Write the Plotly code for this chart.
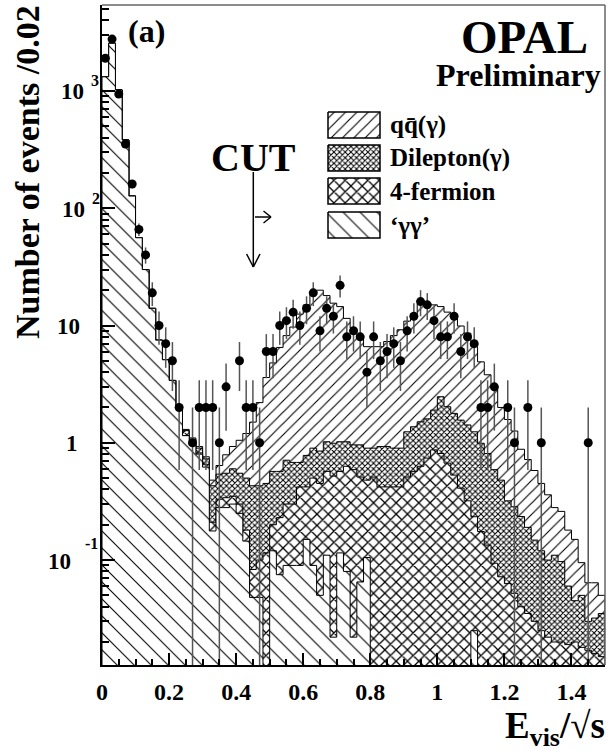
import numpy as np
import plotly.graph_objects as go

# ---------------- data (events per 0.02 bin of E_vis/sqrt(s), 0 .. 1.5) ----------------
BIN_WIDTH = 0.02

gamma_gamma = [1320, 2550, 1020, 382, 127, 56, 30, 14, 7.5, 5.1, 3.4, 1.95,
               1.15, 0.95, 0.80, 0.62,
               0.177, 0.28, 0.28, 0.30, 0.25, 0.145, 0.048, 0.048, 0, 0.12, 0.075, 0.09,
               0.09, 0.09, 0.15, 0.09, 0.05, 0.11, 0.022, 0.115, 0.08, 0.022, 0.065, 0.105,
               0, 0, 0, 0, 0, 0, 0, 0, 0, 0, 0, 0, 0, 0, 0,
               0.025,
               0, 0, 0, 0, 0, 0, 0, 0, 0, 0, 0, 0, 0, 0, 0, 0, 0, 0, 0]

four_fermion = [0, 0, 0, 0, 0, 0, 0, 0, 0, 0, 0, 0,
                0, 0, 0.02, 0.03,
                0.033, 0.05, 0.06, 0.05, 0.05, 0.035, 0.035, 0.052, 0.115, 0.08, 0.155, 0.21,
                0.21, 0.33, 0.27, 0.41, 0.40, 0.46, 0.498, 0.455, 0.55, 0.568, 0.445, 0.375,
                0.51, 0.42, 0.42, 0.42, 0.42, 0.51, 0.57, 0.63, 0.74, 0.87, 0.81, 0.67, 0.53, 0.41, 0.32,
                0.209,
                0.175, 0.134, 0.094, 0.072, 0.063, 0.052, 0.040, 0.035, 0.030, 0.025, 0.022, 0.020,
                0.020, 0.019, 0.020, 0.018, 0.017, 0.016, 0.015]

dilepton = [0, 0, 0, 0, 0, 0, 0, 0, 0, 0, 0, 0,
            0.12, 0.12, 0.08, 0.08,
            0.22, 0.21, 0.21, 0.25, 0.25, 0.32, 0.347, 0.33, 0.335, 0.37, 0.34, 0.41,
            0.38, 0.26, 0.36, 0.40, 0.40, 0.45, 0.47, 0.45, 0.39, 0.37, 0.45, 0.42,
            0.39, 0.51, 0.51, 0.48, 0.48, 0.73, 0.80, 0.88, 0.86, 1.03, 1.66, 1.36, 1.25, 1.15, 1.10,
            1.006,
            0.815, 0.676, 0.496, 0.408, 0.257, 0.233, 0.195, 0.155, 0.118, 0.095, 0.078, 0.09,
            0.077, 0.041, 0.025, 0.032, 0.013, 0.016, 0.02]

qqbar = [0, 0, 0, 0, 0, 0, 0, 0, 0, 0, 0, 0,
         0.03, 0.03, 0.03, 0.03,
         0.05, 0.10, 0.24, 0.33, 0.50, 0.70, 1.07, 1.77, 3.15, 4.23, 5.93, 7.49,
         9.02, 11.82, 14.22, 17.6, 19.15, 16.98, 14.51, 13.48, 10.48, 8.54, 7.04, 5.7,
         5.7, 5.67, 6.37, 7.3, 8.3, 9.66, 11.23, 13.79, 14.0, 13.1, 12.03, 10.97, 10.02, 8.34, 7.18,
         5.36,
         3.91, 2.99, 2.41, 1.52, 1.26, 0.975, 0.645, 0.53, 0.432, 0.33, 0.26, 0.17,
         0.163, 0.12, 0.105, 0.045, 0.034, 0.032, 0.015]

data_counts = [1900, 2770, 940, 353, 161, 66, 40, 19, 10, 7, 5, 2,
               0, 1, 2, 2, 2, 1, 3, 0, 5, 2, 2, 1, 6, 6, 10, 11,
               13, 10, 14, 19, 9, 14, 12, 22, 8, 9, 8, 4,
               8, 5, 6, 7, 5, 9, 12, 16, 15, 11, 8, 8, 12, 6, 8,
               7,
               2, 2, 3, 0, 2, 1, 0, 2, 0, 1, 0, 0,
               0, 0, 0, 0, 1, 0, 0]

xtick_vals = [0, 0.2, 0.4, 0.6, 0.8, 1.0, 1.2, 1.4]
xtick_text = ["0", "0.2", "0.4", "0.6", "0.8", "1", "1.2", "1.4"]
ytick_vals = [0.1, 1, 10, 100, 1000]
ytick_base = ["10", "1", "10", "10", "10"]
ytick_exp = ["-1", "", "", "2", "3"]

legend_labels = ["qq\u0304(\u03b3)", "Dilepton(\u03b3)", "4-fermion", "\u2018\u03b3\u03b3\u2019"]

# ---------------- geometry / style ----------------
W, H = 609, 751
L, R, T, B = 102, 605, 5, 665
FONT = "Liberation Serif"


def px(x):
    return (x - L) / (R - L)


def py(y):
    return (B - y) / (B - T)


patterns = {
    "qq": dict(shape="/", size=8, solidity=0.14),
    "dil": dict(shape="x", size=4, solidity=0.45),
    "4f": dict(shape="x", size=8, solidity=0.3),
    "gg": dict(shape="\\", size=12, solidity=0.09),
}
for p in patterns.values():
    p.update(fgcolor="black", bgcolor="white", fillmode="replace")

n_bins = len(gamma_gamma)
edges = np.round(np.arange(n_bins + 1) * BIN_WIDTH, 4)
centers = edges[:-1] + BIN_WIDTH / 2

stack = np.vstack([gamma_gamma, four_fermion, dilepton, qqbar]).astype(float)
cum = np.cumsum(stack, axis=0)
FLOOR = 1e-5

fig = go.Figure()

order = [(3, "qq"), (2, "dil"), (1, "4f"), (0, "gg")]
for idx, key in order:
    v = np.where(cum[idx] > 0, cum[idx], FLOOR)
    xs = np.concatenate([[edges[0]], edges, [edges[-1]]])
    ys = np.concatenate([[FLOOR], v, [v[-1]], [FLOOR]])
    fig.add_trace(go.Scatter(
        x=xs, y=ys, mode="lines", line=dict(color="black", width=1, shape="hv"),
        fill="toself", fillcolor="white", fillpattern=patterns[key],
        showlegend=False, hoverinfo="skip"))

N = np.array(data_counts, dtype=float)
mask = N > 0
err = np.sqrt(N[mask])
err_lo = np.minimum(err, N[mask] * 0.9999)
fig.add_trace(go.Scatter(
    x=centers[mask], y=N[mask], mode="markers",
    marker=dict(color="black", size=9),
    error_y=dict(type="data", array=err, arrayminus=err_lo, symmetric=False,
                 color="#555555", thickness=1.5, width=0),
    showlegend=False))

# legend swatches drawn on an overlay axis in pixel units
box_tops = [112, 145, 178, 212]
for (key, top) in zip(["qq", "dil", "4f", "gg"], box_tops):
    x0, x1, y0, y1 = 328, 380, top, top + 26
    fig.add_trace(go.Scatter(
        x=[x0, x1, x1, x0, x0], y=[y0, y0, y1, y1, y0], mode="lines",
        line=dict(color="black", width=1.5), fill="toself", fillcolor="white",
        fillpattern=patterns[key], xaxis="x2", yaxis="y2",
        showlegend=False, hoverinfo="skip"))

ann = []
def add_text(text, x, y, size, xanchor="center", yanchor="middle", angle=0):
    ann.append(dict(text=text, x=px(x), y=py(y), xref="paper", yref="paper",
                    xanchor=xanchor, yanchor=yanchor, showarrow=False, textangle=angle,
                    font=dict(family=FONT, size=size, color="black", weight="bold")))

# y tick labels (ROOT style)
base_right = [73, 80, 82, 87, 86]
exp_left = [83, None, None, 90, 89]
exp_shift = [17, 0, 0, 10, 10]
for val, base, ex, br, el, sh in zip(ytick_vals, ytick_base, ytick_exp, base_right, exp_left, exp_shift):
    ann.append(dict(text=base, x=px(br), y=np.log10(val), xref="paper", yref="y",
                    xanchor="right", yanchor="middle", showarrow=False, yshift=-1,
                    font=dict(family=FONT, size=23, color="black", weight="bold")))
    if ex:
        ann.append(dict(text=ex, x=px(el), y=np.log10(val), xref="paper", yref="y",
                        xanchor="left", yanchor="middle", showarrow=False, yshift=sh,
                        font=dict(family=FONT, size=16, color="black", weight="bold")))

add_text("(a)", 146, 31, 32)
add_text("OPAL", 590, 37, 47, xanchor="right")
add_text("Preliminary", 603, 75, 32, xanchor="right")
add_text("CUT", 253, 157, 40)
for lab, top in zip(legend_labels, box_tops):
    add_text(lab, 388, top + 13, 25, xanchor="left")
add_text("Number of events /0.02", 27, 172, 34, angle=-90)
add_text("E<sub>vis</sub>/\u221as", 607, 728, 37, xanchor="right")

shapes = []
def seg(x0, y0, x1, y1, color="black", width=1.5):
    shapes.append(dict(type="line", xref="paper", yref="paper", x0=px(x0), y0=py(y0),
                       x1=px(x1), y1=py(y1), line=dict(color=color, width=width)))

seg(L, T, R, T, color="#666666", width=1.5)
seg(R, T, R, B, color="#666666", width=1.5)
# cut arrow
seg(253.3, 172, 253.3, 267)
seg(246.6, 254, 253.3, 267)
seg(260.0, 254, 253.3, 267)
seg(255, 217, 271, 217)
seg(263.5, 211, 271, 217)
seg(263.5, 223, 271, 217)

x_minor = [round(0.05 * k, 2) for k in range(1, 30) if k % 4 != 0]
y_minor = [m * 10.0 ** d for d in range(-2, 4) for m in range(2, 10)]

fig.update_layout(
    width=W, height=H, margin=dict(l=L, r=W - R, t=T, b=H - B),
    paper_bgcolor="white", plot_bgcolor="white",
    annotations=ann, shapes=shapes, showlegend=False,
    xaxis=dict(range=[0, 1.5], tickmode="array", tickvals=xtick_vals, ticktext=xtick_text,
               ticks="inside", ticklen=12, tickwidth=1.5, tickcolor="black",
               minor=dict(tickmode="array", tickvals=x_minor, ticks="inside", ticklen=6,
                          tickwidth=1.5, tickcolor="black", showgrid=False),
               showline=True, linewidth=2, linecolor="black", showgrid=False, zeroline=False,
               tickfont=dict(family=FONT, size=24, color="black", weight="bold"),
               ticklabelstandoff=4),
    yaxis=dict(type="log", range=[-1.895, 3.733], tickmode="array", tickvals=ytick_vals,
               showticklabels=False, ticks="inside", ticklen=13, tickwidth=1.5, tickcolor="black",
               minor=dict(tickmode="array", tickvals=y_minor, ticks="inside", ticklen=7,
                          tickwidth=1.5, tickcolor="black", showgrid=False),
               showline=True, linewidth=2, linecolor="black", showgrid=False, zeroline=False),
    xaxis2=dict(overlaying="x", anchor="y2", range=[L, R], visible=False),
    yaxis2=dict(overlaying="y", anchor="x2", range=[B, T], visible=False),
)

fig.write_html("out.html")
